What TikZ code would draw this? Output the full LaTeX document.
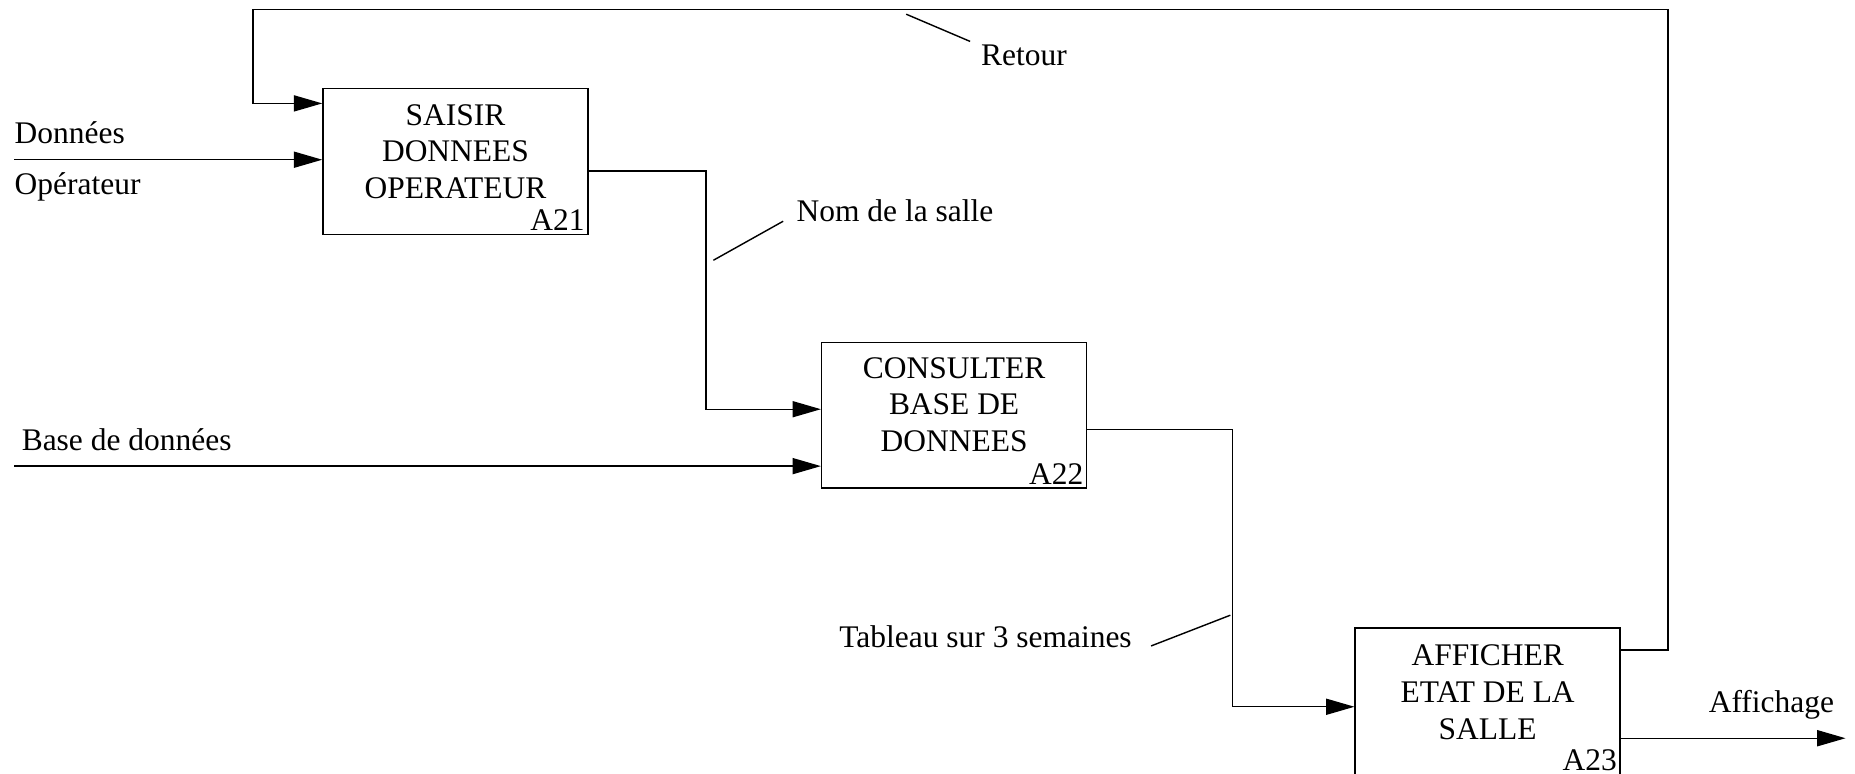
\documentclass[tikz,border=0pt]{standalone}
\usepackage{fontspec}
\setmainfont{Liberation Serif}
\usetikzlibrary{arrows.meta,positioning,calc}

\begin{document}
\begin{tikzpicture}[x=0.5pt,y=-0.5pt,% one unit = one pixel of the drawing, y downwards
			every node/.style={
				font=\fontsize{13.3}{15.5}\selectfont,
				inner sep=0pt
			},
			act/.style={rectangle,draw,line width=0.6pt,minimum width=112pt,minimum height=61.5pt},
			acttext/.style={align=center},
			actnum/.style={anchor=south east,inner sep=1.5pt},
			lbl/.style={anchor=west},
			flow/.style={draw,line width=0.6pt,-{Triangle[length=12pt,width=6.8pt]}},
			lead/.style={draw,line width=0.6pt}
		]
		\useasboundingbox (0,0) rectangle (1568,654);

		% activities
		\node[act](A21) at (385,136.5) {};
		\node[acttext](A21t) at ($(A21.center)+(0,-8.5)$) {SAISIR\\DONNEES\\OPERATEUR};
		\node[actnum](A21n) at (A21.south east) {A21};

		\node[act](A22) at (806.5,351) {};
		\node[acttext](A22t) at ($(A22.center)+(0,-9)$) {CONSULTER\\BASE DE\\DONNEES};
		\node[actnum](A22n) at (A22.south east) {A22};

		% bottom edge runs off the page
		\node[act,minimum height=64pt](A23) at (1257.5,595) {};
		\node[acttext](A23t) at ($(A23.center)+(0,-10)$) {AFFICHER\\ETAT DE LA\\SALLE};
		\node[actnum](A23n) at ($(A23.south east)+(0,-5)$) {A23};

		% labels
		\node[lbl](donnees) at (12,112) {Données};
		\node[lbl](operateur) at (12,158) {Opérateur};
		\node[lbl](base) at (18,372) {Base de données};
		\node[lbl](nom) at (673,178) {Nom de la salle};
		\node[lbl](retour) at (829,47) {Retour};
		\node[anchor=east](tableau) at (957,538) {Tableau sur 3 semaines};
		\node[lbl](affichage) at (1444,596) {Affichage};

		% free ends
		\coordinate (in1) at (12,135);
		\coordinate (in2) at (12,394);
		\coordinate (out) at (1560,624);
		\coordinate (topR) at (1410,8);
		\coordinate (topL) at (214,8);

		% flows
		\draw[flow] (in1) -- (in1 -| A21.west);
		\draw[flow] (in2) -- (in2 -| A22.west);
		\draw[flow] ($(A21.north east)+(0,70)$) -| ($(A22.north west)+(-97,57)$) -- ($(A22.north west)+(0,57)$);
		\draw[flow] ($(A22.north east)+(0,74)$) -| ($(A23.north west)+(-103,67)$) -- ($(A23.north west)+(0,67)$);
		\draw[flow] ($(A23.north east)+(0,19)$) -| (topR) -- (topL) |- ($(A21.north west)+(0,13)$);
		\draw[flow] (out -| A23.east) -- (out);

		% label leaders
		\draw[lead] ($(nom.west)+(-70,42)$) -- ($(nom.west)+(-11,9)$);
		\draw[lead] ($(retour.west)+(-63,-35)$) -- ($(retour.west)+(-9,-12)$);
		\draw[lead] ($(tableau.east)+(16,8)$) -- ($(tableau.east)+(83,-18)$);
	\end{tikzpicture}
\end{document}
